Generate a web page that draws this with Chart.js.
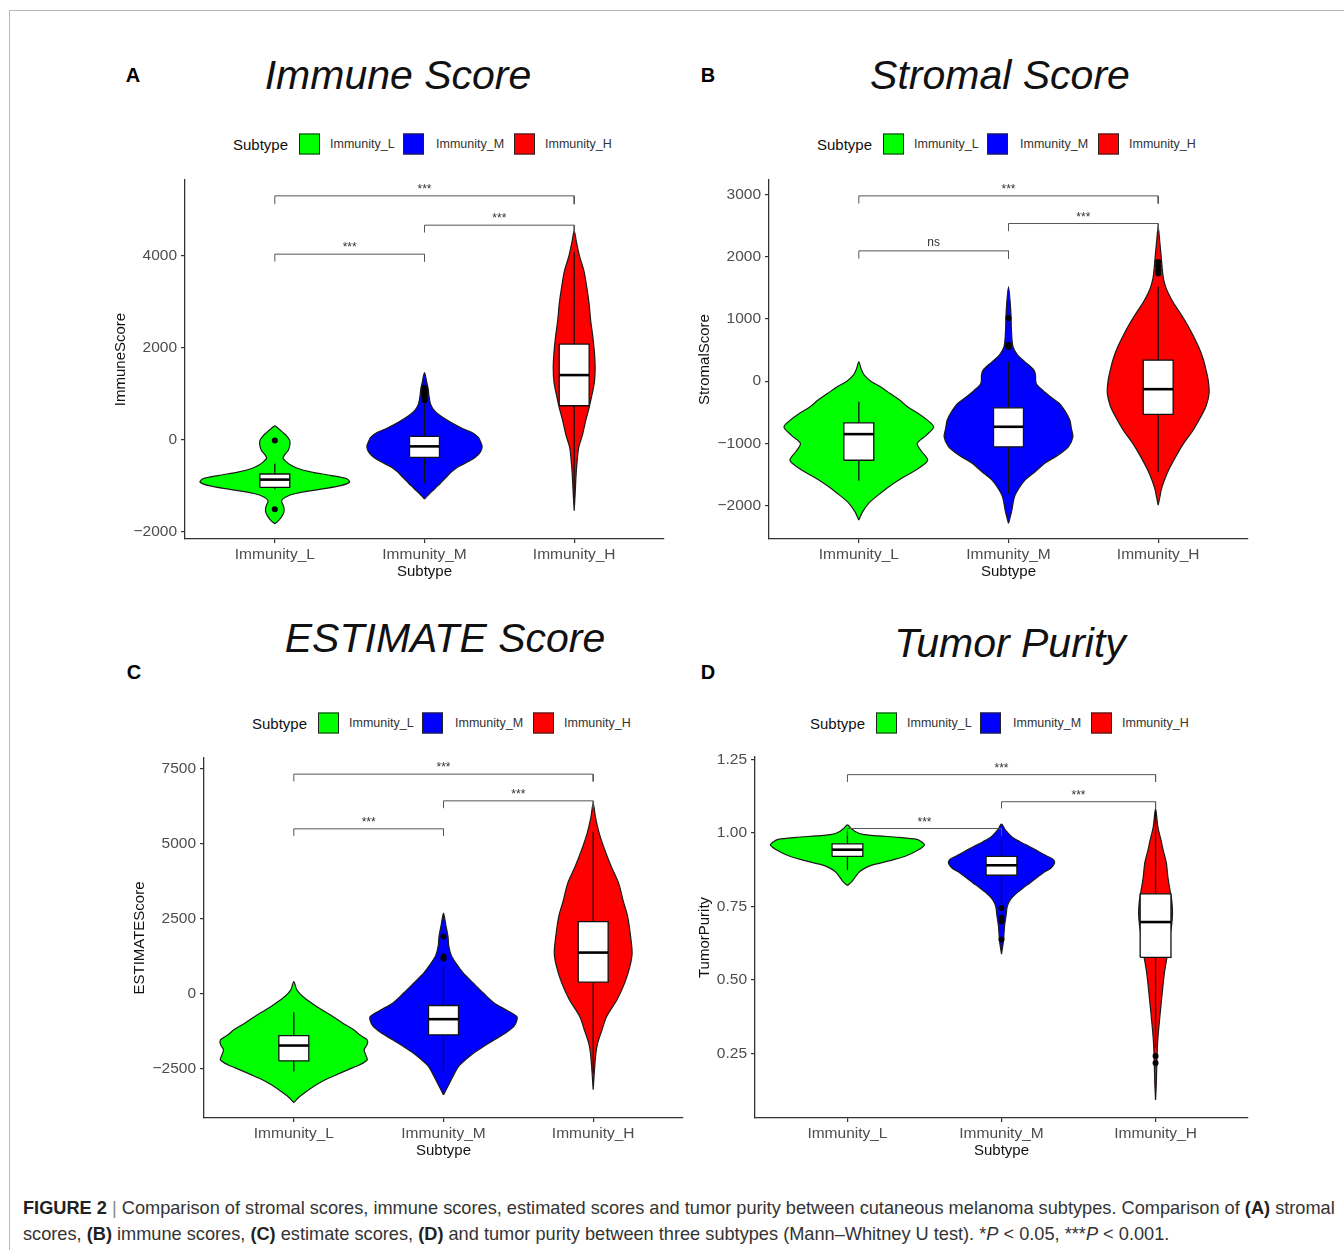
<!DOCTYPE html>
<html><head><meta charset="utf-8">
<script src="https://cdn.jsdelivr.net/npm/chart.js@4.4.1/dist/chart.umd.min.js"></script>
<style>
html,body{margin:0;padding:0;background:#fff}
body{width:1344px;height:1250px;position:relative;overflow:hidden;font-family:"Liberation Sans",Arial,Helvetica,sans-serif}
.abs{position:absolute;white-space:nowrap}
.ctr{transform:translate(-50%,-50%)}
.title{font-size:41px;font-style:italic;color:#111}
.letter{font-size:20px;font-weight:bold;color:#000}
.lg{position:absolute;height:24px}
.lg span{position:absolute;top:50%;transform:translateY(-50%);white-space:nowrap}
.lg .ttl{font-size:15px;color:#111}
.lg .it{font-size:12.5px;color:#333}
.lg .bx{width:21px;height:21px;border:1px solid #222;box-sizing:border-box}
.cap{font-size:18.2px;color:#333;left:23px}
canvas{position:absolute}
</style></head><body>
<div class="abs" style="left:9px;top:10px;width:1335px;height:0;border-top:1.5px solid #b8b8b8"></div>
<div class="abs" style="left:9px;top:10px;width:0;height:1240px;border-left:1.5px solid #b8b8b8"></div>
<div id="root"></div>
<script>
// ---------------- DATA ----------------
const subtypes = ['Immunity_L', 'Immunity_M', 'Immunity_H'];
const subtypeColors = ['#00FF00', '#0000FF', '#FF0000'];

// Panel A: ImmuneScore
const immuneTicks = [-2000, 0, 2000, 4000];
const immuneL_y = [-1830,-1760,-1680,-1580,-1500,-1420,-1330,-1250,-1170,-1080,-1000,-920,-850,-780,-700,-620,-540,-460,-400,-330,-230,-120,-20,80,170,240,300];
const immuneL_w = [0,0.025,0.045,0.06,0.062,0.055,0.045,0.07,0.14,0.3,0.44,0.5,0.48,0.38,0.24,0.15,0.1,0.07,0.055,0.065,0.09,0.1,0.1,0.08,0.05,0.025,0];
const immuneM_y = [-1290,-1220,-1120,-1000,-900,-800,-700,-600,-480,-380,-260,-150,-50,50,150,250,350,450,550,650,780,950,1100,1250,1460];
const immuneM_w = [0,0.02,0.05,0.09,0.12,0.15,0.18,0.22,0.29,0.34,0.375,0.385,0.375,0.36,0.32,0.25,0.19,0.14,0.095,0.062,0.04,0.03,0.025,0.015,0];
const immuneH_y = [-1544,-1200,-800,-530,-170,100,413,700,920,1250,1573,1900,2225,2600,2949,3300,3674,4000,4300,4544];
const immuneH_w = [0,0.006,0.012,0.018,0.03,0.055,0.077,0.1,0.115,0.135,0.14,0.135,0.125,0.11,0.1,0.085,0.065,0.035,0.015,0];
const immuneBoxL = [-1080, -1036, -868, -746, -522];
const immuneBoxM = [-928, -384, -145, 72, 785];
const immuneBoxH = [-1270, 739, 1406, 2080, 4090];
const immuneOutL = [-16, -1515];
const immuneOutM = [1130, 1070, 1010, 960, 910, 860];
const immuneOutH = [];
const immuneSig = [[1, 3, 5305, 5124, '***'], [2, 3, 4667, 4507, '***'], [1, 2, 4037, 3876, '***']];

// Panel B: StromalScore
const stromalTicks = [-2000, -1000, 0, 1000, 2000, 3000];
const stromalL_y = [-2231,-2100,-1950,-1810,-1680,-1540,-1400,-1270,-1130,-1000,-870,-736,-630,-522,-420,-300,-200,-100,0,100,200,310];
const stromalL_w = [0,0.025,0.07,0.14,0.21,0.3,0.4,0.46,0.42,0.39,0.45,0.5,0.46,0.4,0.33,0.27,0.21,0.15,0.08,0.035,0.015,0];
const stromalM_y = [-2285,-2100,-1857,-1720,-1590,-1450,-1322,-1190,-1055,-894,-760,-627,-490,-359,-250,-150,-38,100,176,310,420,552,800,1139,1514];
const stromalM_w = [0,0.02,0.04,0.07,0.11,0.18,0.24,0.33,0.4,0.43,0.42,0.41,0.38,0.34,0.28,0.23,0.185,0.18,0.17,0.11,0.06,0.03,0.02,0.015,0];
const stromalH_y = [-1990,-1850,-1749,-1600,-1428,-1200,-1000,-800,-572,-400,-198,0,177,360,551,750,925,1100,1246,1400,1514,1650,1781,2000,2250,2477];
const stromalH_w = [0,0.012,0.02,0.04,0.07,0.12,0.17,0.23,0.285,0.32,0.34,0.335,0.32,0.3,0.27,0.23,0.19,0.145,0.105,0.07,0.05,0.035,0.028,0.02,0.01,0];
const stromalBoxL = [-1600, -1270, -851, -669, -332];
const stromalBoxM = [-1804, -1055, -733, -428, 310];
const stromalBoxH = [-1455, -535, -129, 337, 1514];
const stromalOutL = [];
const stromalOutM = [1015, 580, 550];
const stromalOutH = [1915, 1850, 1780, 1730];
const stromalSig = [[1, 3, 2975, 2852, '***'], [2, 3, 2531, 2408, '***'], [1, 2, 2092, 1968, 'ns']];

// Panel C: ESTIMATEScore
const estimateTicks = [-2500, 0, 2500, 5000, 7500];
const estimateL_y = [-3640,-3439,-3216,-3050,-2882,-2700,-2548,-2380,-2214,-2050,-1880,-1700,-1546,-1380,-1212,-1000,-766,-550,-321,-100,124,401];
const estimateL_w = [0,0.04,0.1,0.15,0.21,0.29,0.36,0.44,0.49,0.48,0.47,0.49,0.49,0.44,0.4,0.33,0.26,0.19,0.12,0.06,0.02,0];
const estimateM_y = [-3384,-2994,-2700,-2437,-2200,-1991,-1760,-1546,-1300,-1100,-900,-766,-550,-321,0,346,700,1014,1300,1600,1905,2300,2685];
const estimateM_w = [0,0.04,0.07,0.1,0.15,0.2,0.27,0.34,0.42,0.47,0.49,0.49,0.42,0.34,0.27,0.2,0.13,0.083,0.05,0.035,0.03,0.015,0];
const estimateH_y = [-3216,-2600,-2000,-1656,-1200,-765,-200,348,900,1350,1900,2575,3100,3689,4250,4802,5360,5900,6359];
const estimateH_w = [0,0.008,0.018,0.03,0.06,0.09,0.16,0.21,0.245,0.26,0.25,0.23,0.2,0.17,0.12,0.077,0.04,0.015,0];
const estimateBoxL = [-2604, -2249, -1737, -1403, -622];
const estimateBoxM = [-2637, -1379, -856, -399, 902];
const estimateBoxH = [-2650, 379, 1368, 2405, 5400];
const estimateOutL = [];
const estimateOutM = [1905, 1236, 1160];
const estimateOutH = [];
const estimateSig = [[1, 3, 7328, 7084, '***'], [2, 3, 6436, 6191, '***'], [1, 2, 5501, 5267, '***']];

// Panel D: TumorPurity
const purityTicks = [0.25, 0.50, 0.75, 1.00, 1.25];
const purityL_y = [0.821,0.835,0.85,0.869,0.882,0.892,0.909,0.92,0.931,0.945,0.959,0.97,0.978,0.985,0.99,0.995,1.005,1.015,1.027];
const purityL_w = [0,0.03,0.05,0.08,0.12,0.17,0.3,0.37,0.42,0.47,0.5,0.48,0.45,0.33,0.2,0.1,0.05,0.025,0];
const purityM_y = [0.588,0.63,0.684,0.72,0.751,0.775,0.796,0.813,0.83,0.848,0.864,0.88,0.898,0.91,0.92,0.937,0.954,0.97,0.988,1.01,1.03];
const purityM_w = [0,0.012,0.02,0.03,0.038,0.06,0.1,0.14,0.185,0.23,0.27,0.32,0.345,0.335,0.3,0.24,0.18,0.12,0.064,0.025,0];
const purityH_y = [0.092,0.15,0.233,0.301,0.36,0.413,0.47,0.526,0.58,0.639,0.69,0.729,0.77,0.807,0.85,0.898,0.94,0.976,1.021,1.083];
const purityH_w = [0,0.005,0.009,0.015,0.025,0.035,0.046,0.058,0.075,0.09,0.105,0.11,0.105,0.093,0.08,0.07,0.05,0.035,0.015,0];
const purityBoxL = [0.873, 0.920, 0.943, 0.963, 1.005];
const purityBoxM = [0.757, 0.856, 0.890, 0.920, 0.976];
const purityBoxH = [0.27, 0.577, 0.697, 0.793, 1.072];
const purityOutL = [];
const purityOutM = [0.745, 0.712, 0.700, 0.638];
const purityOutH = [0.242, 0.218];
const puritySig = [[1, 3, 1.198, 1.173, '***'], [2, 3, 1.106, 1.083, '***'], [1, 2, 1.015, 0.99, '***']];

// ---------------- PANELS ----------------
const intFmt = v => v < 0 ? '\u2212' + Math.abs(v) : String(v);
const decFmt = v => v.toFixed(2);

const panels = [
  {yTitle: 'ImmuneScore', yMin: -2160, yMax: 5650, ticks: immuneTicks, fmt: intFmt,
   vy: [immuneL_y, immuneM_y, immuneH_y], vw: [immuneL_w, immuneM_w, immuneH_w],
   box: [immuneBoxL, immuneBoxM, immuneBoxH], out: [immuneOutL, immuneOutM, immuneOutH], sig: immuneSig,
   g: {left: 185, right: 664, top: 180, bottom: 539, yTitleX: 121}},
  {yTitle: 'StromalScore', yMin: -2535, yMax: 3230, ticks: stromalTicks, fmt: intFmt,
   vy: [stromalL_y, stromalM_y, stromalH_y], vw: [stromalL_w, stromalM_w, stromalH_w],
   box: [stromalBoxL, stromalBoxM, stromalBoxH], out: [stromalOutL, stromalOutM, stromalOutH], sig: stromalSig,
   g: {left: 769, right: 1248, top: 180, bottom: 539, yTitleX: 705}},
  {yTitle: 'ESTIMATEScore', yMin: -4157, yMax: 7867, ticks: estimateTicks, fmt: intFmt,
   vy: [estimateL_y, estimateM_y, estimateH_y], vw: [estimateL_w, estimateM_w, estimateH_w],
   box: [estimateBoxL, estimateBoxM, estimateBoxH], out: [estimateOutL, estimateOutM, estimateOutH], sig: estimateSig,
   g: {left: 204, right: 683, top: 758, bottom: 1118, yTitleX: 140}},
  {yTitle: 'TumorPurity', yMin: 0.031, yMax: 1.258, ticks: purityTicks, fmt: decFmt,
   vy: [purityL_y, purityM_y, purityH_y], vw: [purityL_w, purityM_w, purityH_w],
   box: [purityBoxL, purityBoxM, purityBoxH], out: [purityOutL, purityOutM, purityOutH], sig: puritySig,
   g: {left: 755, right: 1248, top: 757, bottom: 1118, yTitleX: 705}}
];

const BOX_HALF = 0.1;

const sigPlugin = {
  id: 'sigLabels',
  afterDatasetsDraw(chart, args, opts) {
    const {ctx} = chart;
    const xs = chart.scales.x, ys = chart.scales.y;
    ctx.save();
    ctx.font = '12px "Liberation Sans", Arial, sans-serif';
    ctx.fillStyle = '#333';
    ctx.textAlign = 'center';
    ctx.textBaseline = 'bottom';
    (opts.items || []).forEach(s => {
      const px = (xs.getPixelForValue(s[0]) + xs.getPixelForValue(s[1])) / 2;
      const py = ys.getPixelForValue(s[2]) - (s[4] === 'ns' ? 2 : 0);
      ctx.fillText(s[4], px, py);
    });
    ctx.restore();
  }
};

const root = document.getElementById('root');

panels.forEach(p => {
  const g = p.g;
  const cLeft = Math.round(g.yTitleX - 20);
  const cTop = Math.round(g.top - 14);
  const W = Math.round(g.right + 12 - cLeft);
  const H = Math.round(g.bottom + 50 - cTop);
  const yAxisW = g.left - cLeft;
  const cv = document.createElement('canvas');
  cv.width = W; cv.height = H;
  cv.style.left = cLeft + 'px'; cv.style.top = cTop + 'px';
  cv.style.width = W + 'px'; cv.style.height = H + 'px';
  root.appendChild(cv);

  const datasets = [];
  subtypes.forEach((name, i) => {
    const c = i + 1;
    const ys = p.vy[i], ws = p.vw[i];
    const outline = [];
    for (let k = 0; k < ys.length; k++) outline.push({x: c + ws[k], y: ys[k]});
    for (let k = ys.length - 2; k >= 0; k--) outline.push({x: c - ws[k], y: ys[k]});
    datasets.push({label: name, data: outline, showLine: true, fill: 'shape',
      backgroundColor: subtypeColors[i], borderColor: '#1a1a1a', borderWidth: 1.2,
      pointRadius: 0, tension: 0.3, order: 50});
    const b = p.box[i];
    datasets.push({data: [{x: c, y: b[0]}, {x: c, y: b[4]}], showLine: true, fill: false,
      borderColor: '#111', borderWidth: 1.3, pointRadius: 0, tension: 0, order: 40});
    datasets.push({data: [{x: c - BOX_HALF, y: b[1]}, {x: c + BOX_HALF, y: b[1]}, {x: c + BOX_HALF, y: b[3]},
      {x: c - BOX_HALF, y: b[3]}, {x: c - BOX_HALF, y: b[1]}], showLine: true, fill: 'shape',
      backgroundColor: '#ffffff', borderColor: '#111', borderWidth: 1.3, pointRadius: 0, tension: 0, order: 30});
    datasets.push({data: [{x: c - BOX_HALF, y: b[2]}, {x: c + BOX_HALF, y: b[2]}], showLine: true, fill: false,
      borderColor: '#000', borderWidth: 2.6, pointRadius: 0, tension: 0, order: 20});
    if (p.out[i].length) {
      datasets.push({data: p.out[i].map(v => ({x: c, y: v})), showLine: false,
        pointRadius: 3, pointBackgroundColor: '#000', pointBorderColor: '#000', pointBorderWidth: 0, order: 10});
    }
  });
  p.sig.forEach(s => {
    datasets.push({data: [{x: s[0], y: s[3]}, {x: s[0], y: s[2]}, {x: s[1], y: s[2]}, {x: s[1], y: s[3]}],
      showLine: true, fill: false, borderColor: '#555', borderWidth: 1, pointRadius: 0, tension: 0, order: 5});
  });

  const tickFont = {family: '"Liberation Sans", Arial, sans-serif', size: 15.5};
  const titleFont = {family: '"Liberation Sans", Arial, sans-serif', size: 15, lineHeight: 1.2};

  new Chart(cv, {
    type: 'scatter',
    data: {datasets},
    plugins: [sigPlugin],
    options: {
      responsive: false, animation: false, events: [],
      layout: {padding: {left: 0, right: 12, top: 14, bottom: 0}},
      plugins: {legend: {display: false}, tooltip: {enabled: false}, sigLabels: {items: p.sig}},
      scales: {
        x: {
          type: 'linear', min: 0.4, max: 3.6,
          afterBuildTicks: s => { s.ticks = [1, 2, 3].map(v => ({value: v})); },
          afterFit: s => { s.height = 50; },
          ticks: {callback: v => subtypes[v - 1] || '', font: tickFont, color: '#4d4d4d', padding: 2, maxRotation: 0, autoSkip: false},
          grid: {display: true, drawOnChartArea: false, drawTicks: true, tickLength: 4, color: '#333', lineWidth: 1.2},
          border: {display: true, color: '#333', width: 1.3},
          title: {display: true, text: 'Subtype', font: titleFont, color: '#111', padding: {top: 0, bottom: 8}}
        },
        y: {
          type: 'linear', min: p.yMin, max: p.yMax,
          afterBuildTicks: s => { s.ticks = p.ticks.map(v => ({value: v})); },
          afterFit: s => { s.width = yAxisW; },
          ticks: {callback: v => p.fmt(v), font: tickFont, color: '#4d4d4d', padding: 4, autoSkip: false},
          grid: {display: true, drawOnChartArea: false, drawTicks: true, tickLength: 4, color: '#333', lineWidth: 1.2},
          border: {display: true, color: '#333', width: 1.3},
          title: {display: true, text: p.yTitle, font: titleFont, color: '#111', padding: {top: 11, bottom: 0}}
        }
      }
    }
  });
});

// ---------------- TEXT (titles, letters, legends, caption) ----------------
function addDiv(cls, html, left, top, center) {
  const d = document.createElement('div');
  d.className = 'abs ' + cls + (center ? ' ctr' : '');
  d.style.left = left + 'px'; d.style.top = top + 'px';
  d.innerHTML = html;
  document.body.appendChild(d);
  return d;
}
[['Immune Score', 398, 75], ['Stromal Score', 1000, 75], ['ESTIMATE Score', 445, 638], ['Tumor Purity', 1010, 643]]
  .forEach(t => addDiv('title', t[0], t[1], t[2], true));
[['A', 133, 75], ['B', 708, 75], ['C', 134, 672], ['D', 708, 672]]
  .forEach(t => addDiv('letter', t[0], t[1], t[2], true));

function legend(left, cy) {
  const d = document.createElement('div');
  d.className = 'lg';
  d.style.left = left + 'px'; d.style.top = (cy - 12) + 'px';
  let h = '<span class="ttl" style="left:0">Subtype</span>';
  const boxX = [66, 170, 281], txtX = [97, 203, 312];
  subtypes.forEach((s, i) => {
    h += '<span class="bx" style="left:' + boxX[i] + 'px;background:' + subtypeColors[i] + '"></span>';
    h += '<span class="it" style="left:' + txtX[i] + 'px">' + s + '</span>';
  });
  d.innerHTML = h;
  document.body.appendChild(d);
}
legend(233, 144); legend(817, 144); legend(252, 723); legend(810, 723);

addDiv('cap', '<b style="color:#222">FIGURE 2</b> <span style="color:#888">|</span> Comparison of stromal scores, immune scores, estimated scores and tumor purity between cutaneous melanoma subtypes. Comparison of <b style="color:#222">(A)</b> stromal', 23, 1198, false);
addDiv('cap', 'scores, <b style="color:#222">(B)</b> immune scores, <b style="color:#222">(C)</b> estimate scores, <b style="color:#222">(D)</b> and tumor purity between three subtypes (Mann\u2013Whitney U test). *<i>P</i> &lt; 0.05, ***<i>P</i> &lt; 0.001.', 23, 1224, false);
</script>
</body></html>
